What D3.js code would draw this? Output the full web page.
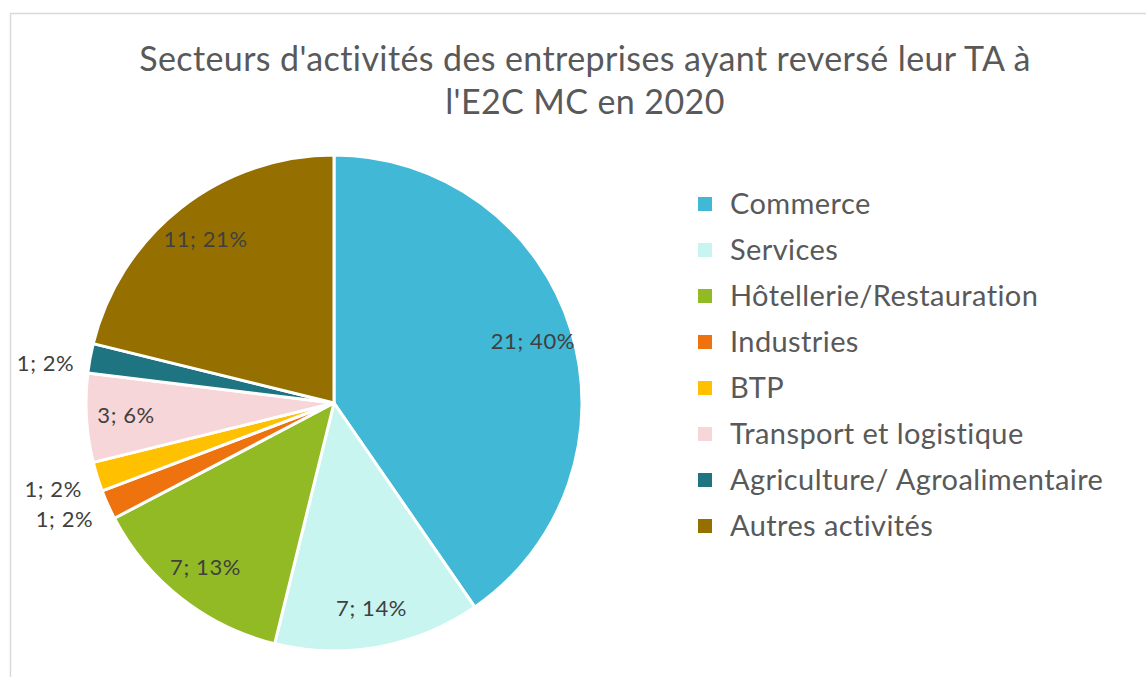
<!DOCTYPE html>
<html>
<head>
<meta charset="utf-8">
<script src="https://cdn.jsdelivr.net/npm/d3@7"></script>
<style>
  body { margin: 0; background: #fff; }
  svg { display: block; font-family: Lato, "Open Sans", sans-serif; }
</style>
</head>
<body>
<svg id="svg" width="1146" height="677"></svg>
<script>
var categories = [
  "Commerce",
  "Services",
  "Hôtellerie/Restauration",
  "Industries",
  "BTP",
  "Transport et logistique",
  "Agriculture/ Agroalimentaire",
  "Autres activités",
];
var counts = [21, 7, 7, 1, 1, 3, 1, 11];
var percentLabels = ["40%", "14%", "13%", "2%", "2%", "6%", "2%", "21%"];
var colors = ["#41B8D5", "#C9F5F0", "#91BA25", "#EE730F", "#FFC000", "#F7D6D9", "#1F7482", "#957000"];
var titleLines = ["Secteurs d'activités des entreprises ayant reversé leur TA à", "l'E2C MC en 2020"];

var data = categories.map(function (c, i) {
  return { name: c, value: counts[i], pct: percentLabels[i], color: colors[i] };
});

var svg = d3.select("#svg");

// chart frame
svg.append("rect")
  .attr("x", 10.5).attr("y", 13.5)
  .attr("width", 1160).attr("height", 700)
  .attr("fill", "none").attr("stroke", "#d9d9d9").attr("stroke-width", 1.5);

// title
svg.append("g")
  .selectAll("text")
  .data(titleLines)
  .enter()
  .append("text")
  .attr("x", 585)
  .attr("y", function (d, i) { return 71 + i * 43; })
  .attr("text-anchor", "middle")
  .attr("fill", "#595959")
  .attr("font-size", 34)
  .attr("letter-spacing", 0.4)
  .text(function (d) { return d; });

var center = { x: 334, y: 403 };
var radius = 248;

var pie = d3.pie().sort(null).value(function (d) { return d.value; });
var arc = d3.arc().innerRadius(0).outerRadius(radius);
var arcs = pie(data);
var total = d3.sum(counts);

var pieGrp = svg.append("g")
  .attr("transform", "translate(" + center.x + "," + center.y + ")");

pieGrp.selectAll("path")
  .data(arcs)
  .enter()
  .append("path")
  .attr("d", arc)
  .attr("fill", function (d) { return d.data.color; })
  .attr("stroke", "#fff")
  .attr("stroke-width", 3)
  .attr("stroke-linejoin", "round");

// labels: inside for big slices, outside for small ones
var inner = d3.arc().innerRadius(radius * 0.84).outerRadius(radius * 0.84);
var outer = d3.arc().innerRadius(radius + 16).outerRadius(radius + 16);

pieGrp.selectAll("text")
  .data(arcs)
  .enter()
  .append("text")
  .attr("transform", function (d) {
    var small = d.data.value / total < 0.03;
    var p = small ? outer.centroid(d) : inner.centroid(d);
    return "translate(" + p[0] + "," + p[1] + ")";
  })
  .attr("text-anchor", function (d) {
    return d.data.value / total < 0.03 ? "end" : "middle";
  })
  .attr("dy", function (d) {
    // small labels sit a little lower than the slice, as in the source
    return d.data.value / total < 0.03 ? "0.7em" : "0.35em";
  })
  .attr("fill", "#404040")
  .attr("font-size", 22)
  .attr("letter-spacing", 0.6)
  .text(function (d) { return d.data.value + "; " + d.data.pct; });

// legend
var legend = svg.append("g").attr("transform", "translate(698,204)");
var rows = legend.selectAll("g")
  .data(data)
  .enter()
  .append("g")
  .attr("transform", function (d, i) { return "translate(0," + i * 46 + ")"; });

rows.append("rect")
  .attr("x", 0).attr("y", -7)
  .attr("width", 14).attr("height", 14)
  .attr("fill", function (d) { return d.color; });

rows.append("text")
  .attr("x", 32)
  .attr("dy", "0.35em")
  .attr("fill", "#595959")
  .attr("font-size", 29)
  .attr("letter-spacing", 0.4)
  .text(function (d) { return d.name; });
</script>
</body>
</html>
